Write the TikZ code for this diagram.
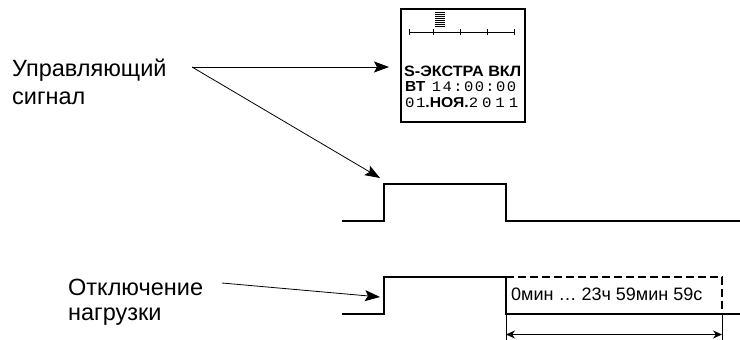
\documentclass[tikz,border=0pt]{standalone}
\usepackage{fontspec}
\setmainfont{Liberation Sans}
\newfontfamily\lcdfont[LetterSpace=9]{Liberation Mono}
\usetikzlibrary{arrows.meta}
\begin{document}
\begin{tikzpicture}[x=1pt,y=-1pt,
  wave/.style={line width=2.2pt, line join=miter},
  thinarrow/.style={line width=0.8pt, -{Stealth[length=15pt,width=11pt,inset=3pt]}},
  lbl/.style={align=left, inner sep=0pt, anchor=north west},
  disptext/.style={anchor=base west, inner sep=0pt, font=\fontsize{14}{16}\selectfont\bfseries},
]
\useasboundingbox (0,0) rectangle (740,340);

% labels
\node[lbl, font=\fontsize{23.5}{28.3}\selectfont] (ctl) at (12,58.5) {Управляющий\\сигнал};
\node[lbl, font=\fontsize{23.5}{24.5}\selectfont] (off) at (68,279) {Отключение\\нагрузки};

% display
\node[draw, line width=1.2pt, minimum width=124pt, minimum height=113pt, inner sep=0pt] (disp) at (463,65.5) {};
\draw[line width=1pt] (409,32) -- (514,32);
\foreach \x in {409,433,460,487,514} \draw[line width=1pt] (\x,29) -- (\x,35);
\foreach \y in {12.5,14.5,...,26.5} \draw[line width=1pt] (435,\y) -- (445,\y);
\node[disptext] (t1) at (404,76) {\resizebox{117pt}{10.5pt}{S-ЭКСТРА ВКЛ}};
\node[disptext] (t2) at (405,91) {\resizebox{111pt}{10pt}{ВТ\hspace{6pt}{\fontsize{14}{16}\selectfont\mdseries\lcdfont 14:00:00}}};
\node[disptext] (t3) at (405,107) {\resizebox{113pt}{10pt}{{\fontsize{14}{16}\selectfont\mdseries\lcdfont 01}.НОЯ.{\fontsize{14}{16}\selectfont\mdseries\lcdfont\addfontfeature{LetterSpace=25}2011}}};

% waveforms
\draw[wave] (342,221) -- (384,221) -- (384,184) -- (506,184) -- (506,221) -- (740,221);
\draw[wave] (342,314) -- (384,314) -- (384,277) -- (506,277) -- (506,314) -- (740,314);
\draw[wave, dash pattern=on 8pt off 4pt] (506,277) -- (722,277) -- (722,314);
\node[anchor=base west, inner sep=0pt, font=\fontsize{18}{20}\selectfont] (dur) at (511,300) {0мин … 23ч 59мин 59с};

% dimension
\draw[line width=0.8pt] (506,314) -- (506,340);
\draw[line width=0.8pt] (722,314) -- (722,340);
\coordinate (dl) at (506,334.5);
\coordinate (dr) at (722,334.5);
\draw[line width=1pt, {Stealth[length=9pt,width=8pt]}-{Stealth[length=9pt,width=8pt]}] (dl) -- (dr);

% arrows
\coordinate (c0) at (192,67);
\coordinate (c1) at (389,67);
\coordinate (c2) at (380,178);
\draw[thinarrow] (c0) -- (c1);
\draw[thinarrow] (c0) -- (c2);
\coordinate (o0) at (222,283);
\coordinate (o1) at (380,297);
\draw[thinarrow] (o0) -- (o1);
\end{tikzpicture}
\end{document}
